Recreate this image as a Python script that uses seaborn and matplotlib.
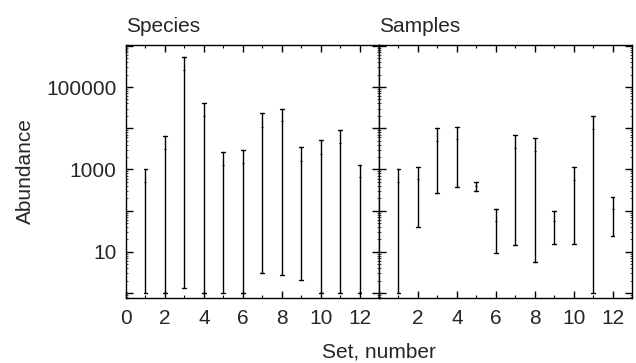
import numpy as np
import pandas as pd
import matplotlib
matplotlib.use("Agg")
import matplotlib.pyplot as plt
from matplotlib.ticker import MultipleLocator, LogLocator, FuncFormatter, NullFormatter
import seaborn as sns

# range of abundance per set: low end, marker, high end
sets = list(range(1, 13))

species_low = [1, 1, 1.3, 1, 1, 1, 3.0, 2.8, 2.1, 1, 1, 1]
species_mid = [490, 3200, 260000, 20000, 1300, 1450, 11000, 15000, 1650, 2400, 4400, 650]
species_high = [1000, 6600, 550000, 41000, 2600, 3000, 23000, 30000, 3500, 5200, 9000, 1300]

samples_low = [1, 41, 262, 372, 302, 9.2, 14.6, 5.75, 15.2, 15.8, 1, 24]
samples_mid = [490, 580, 4900, 5400, 400, 57, 3400, 2800, 56, 550, 9500, 111]
samples_high = [1000, 1180, 10000, 11000, 510, 109, 6900, 5750, 101, 1140, 19600, 213]

panels = ["Species", "Samples"]


def long_form(low, mid, high):
    rows = []
    for s, lo, md, hi in zip(sets, low, mid, high):
        for v in (lo, md, hi):
            rows.append({"set": s, "abundance": v})
    return pd.DataFrame(rows)


frames = [
    long_form(species_low, species_mid, species_high),
    long_form(samples_low, samples_mid, samples_high),
]

sns.set_style("ticks")
plt.rcParams["font.family"] = ["Liberation Sans", "DejaVu Sans"]
fs = 15

fig = plt.figure(figsize=(6.36, 3.63), dpi=100)
W, H = 636, 363
ax1 = fig.add_axes([126 / W, 1 - 298 / H, 253 / W, 253 / H])
ax2 = fig.add_axes([379 / W, 1 - 298 / H, 253 / W, 253 / H], sharey=ax1)

for ax, df, title in zip([ax1, ax2], frames, panels):
    ax.set_yscale("log")
    sns.pointplot(
        data=df, x="set", y="abundance",
        estimator="median", errorbar=("pi", 100),
        native_scale=True, linestyle="none",
        marker="_", markersize=2, markeredgewidth=0.8,
        color="black", capsize=0.2,
        err_kws={"linewidth": 1},
        ax=ax,
    )
    ax.set_xlim(0, 13)
    ax.set_ylim(0.76, 1.05e6)
    ax.set_xlabel("")
    ax.set_ylabel("")
    ax.set_title(title, loc="left", fontsize=fs, pad=9)

    ax.xaxis.set_major_locator(MultipleLocator(2))
    ax.xaxis.set_minor_locator(MultipleLocator(1))
    ax.yaxis.set_major_locator(LogLocator(base=10, numticks=20))
    ax.yaxis.set_minor_locator(LogLocator(base=10, subs=np.arange(2, 10), numticks=20))
    ax.yaxis.set_minor_formatter(NullFormatter())
    ax.yaxis.set_major_formatter(FuncFormatter(
        lambda v, p: f"{int(round(v))}" if int(round(np.log10(v))) % 2 == 1 else ""))

    ax.tick_params(which="both", direction="in", top=True, right=True,
                   labelsize=fs, color="black")
    ax.tick_params(which="major", length=5, width=1)
    ax.tick_params(axis="x", which="minor", length=2.5, width=0.8)
    ax.tick_params(axis="y", which="minor", length=1.5, width=0.5)
    ax.tick_params(axis="x", pad=8)
    ax.tick_params(axis="y", pad=7)
    for sp in ax.spines.values():
        sp.set_linewidth(1)
        sp.set_color("black")

ax2.tick_params(labelleft=False)
ax2.xaxis.set_major_formatter(FuncFormatter(lambda v, p: "" if v == 0 else f"{int(v)}"))
ax1.xaxis.set_major_formatter(FuncFormatter(lambda v, p: f"{int(v)}"))

fig.text((126 + 632) / 2 / W, 1 - 352 / H, "Set, number", ha="center", va="center", fontsize=fs)
fig.text(25 / W, 1 - 171.5 / H, "Abundance", ha="center", va="center",
         rotation=90, fontsize=fs)

fig.savefig("out.png", dpi=100)
